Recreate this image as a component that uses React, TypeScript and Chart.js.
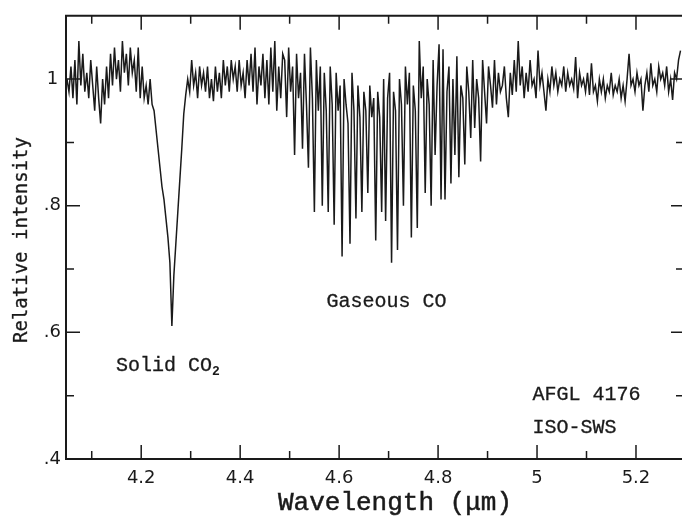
import { useEffect, useRef } from 'react';
import { Chart, registerables } from 'chart.js';

Chart.register(...registerables);

// Wavelength grid of the spectrum (micrometres)
const WAVE_START = 4.05;
const WAVE_STEP = 0.004;

// Relative intensity, one value per grid step
const INTENSITY = [
  1.00, 0.98, 1.02, 0.97, 1.03, 0.96, 1.06, 0.99, 1.04, 0.98,
  1.01, 0.97, 1.03, 0.99, 0.95, 1.02, 0.97, 0.93, 1.00, 0.96,
  1.02, 0.97, 1.04, 0.99, 1.05, 1.00, 1.03, 0.98, 1.06, 1.01,
  1.04, 0.99, 1.05, 1.01, 1.03, 0.98, 1.05, 0.97, 1.02, 0.97,
  0.99, 0.96, 1.00, 0.96, 0.95, 0.92, 0.89, 0.86, 0.83, 0.81,
  0.78, 0.75, 0.71, 0.61, 0.69, 0.74, 0.79, 0.84, 0.89, 0.945,
  0.975, 1.00, 0.98, 1.03, 0.99, 1.01, 0.97, 1.02, 0.99, 1.01,
  0.98, 1.02, 0.97, 1.00, 0.965, 1.02, 0.98, 1.01, 0.97, 1.03,
  0.99, 1.02, 0.98, 1.03, 1.00, 1.02, 0.98, 1.03, 0.99, 1.01,
  0.97, 1.03, 0.99, 1.04, 0.98, 1.05, 0.96, 1.02, 0.99, 1.04,
  0.97, 1.03, 0.96, 1.05, 0.98, 1.06, 0.95, 1.02, 0.97, 1.04,
  1.03, 0.94, 1.05, 0.98, 1.02, 0.88, 1.04, 0.97, 1.01, 0.89,
  1.04, 0.96, 0.86, 1.05, 0.97, 0.79, 1.03, 0.95, 1.02, 0.80,
  1.01, 0.95, 0.79, 1.02, 0.96, 0.77, 1.01, 0.95, 0.99, 0.72,
  1.00, 0.96, 0.93, 0.74, 1.01, 0.95, 0.78, 0.99, 0.94, 0.79,
  0.98, 0.95, 0.82, 0.99, 0.94, 0.97, 0.745, 0.98, 0.94, 0.79,
  1.00, 0.776, 0.97, 1.01, 0.71, 0.98, 0.95, 0.73, 1.00, 0.96,
  0.80, 1.02, 0.96, 1.01, 0.75, 0.99, 0.95, 0.765, 1.06, 0.97,
  1.02, 0.82, 1.00, 0.96, 0.80, 1.03, 0.88, 0.99, 1.055, 0.81,
  1.047, 0.81, 0.98, 1.02, 0.835, 1.00, 0.88, 1.036, 0.845, 0.99,
  0.97, 0.865, 1.02, 0.98, 0.907, 1.03, 0.923, 1.00, 0.97, 0.87,
  1.03, 0.98, 0.93, 1.02, 0.99, 0.955, 1.03, 0.96, 1.01, 0.98,
  0.99, 1.02, 0.97, 0.94, 1.01, 0.975, 1.03, 0.98, 1.06, 0.99,
  1.02, 0.97, 1.01, 0.98, 1.03, 0.99, 1.00, 0.97, 1.045, 0.99,
  1.01, 0.98, 0.95, 1.00, 0.98, 1.02, 0.99, 1.01, 0.98, 1.00,
  0.99, 1.02, 0.98, 1.01, 0.99, 1.00, 0.985, 1.035, 0.97, 1.01,
  0.99, 1.00, 0.98, 1.01, 0.975, 1.025, 0.98, 0.99, 0.965, 1.00,
  0.98, 1.00, 0.97, 0.99, 0.98, 1.01, 0.975, 0.99, 0.98, 1.00,
  0.97, 0.99, 0.965, 1.00, 1.04, 0.99, 1.00, 0.98, 1.01, 0.99,
  1.00, 0.95, 0.99, 1.01, 0.98, 1.025, 0.99, 1.00, 0.98, 1.02,
  1.00, 1.01, 0.99, 1.02, 0.98, 1.00, 0.967, 1.01, 1.00, 1.03,
  1.045,
];

const X_MIN = 4.048;
const X_MAX = 5.293;
const Y_MIN = 0.4;
const Y_MAX = 1.1;

const X_MAJOR_TICKS = [4.2, 4.4, 4.6, 4.8, 5.0, 5.2];
const X_TICK_LABELS = ['4.2', '4.4', '4.6', '4.8', '5', '5.2'];
const X_MINOR_TICKS = [4.1, 4.3, 4.5, 4.7, 4.9, 5.1];
const Y_MAJOR_TICKS = [0.4, 0.6, 0.8, 1.0];
const Y_TICK_LABELS = ['.4', '.6', '.8', '1'];
const Y_MINOR_TICKS = [0.5, 0.7, 0.9];

const X_TITLE = 'Wavelength (\u03bcm)';
const Y_TITLE = 'Relative intensity';

const ANNOTATIONS = [
  { text: 'Gaseous CO', sub: '', x: 4.5745, y: 0.649 },
  { text: 'Solid CO', sub: '2', x: 4.149, y: 0.548 },
  { text: 'AFGL 4176', sub: '', x: 4.991, y: 0.502 },
  { text: 'ISO-SWS', sub: '', x: 4.991, y: 0.45 },
];

const INK = '#1a1a1a';

const framePlugin = {
  id: 'frameAndText',
  afterDraw(chart: any) {
    const { ctx, chartArea, scales } = chart;
    const xs = scales.x;
    const ys = scales.y;
    const { left, right, top, bottom } = chartArea;
    ctx.save();
    ctx.strokeStyle = INK;
    ctx.lineCap = 'butt';
    // frame (left, top, bottom)
    ctx.lineWidth = 2;
    ctx.beginPath();
    ctx.moveTo(left, top);
    ctx.lineTo(right, top);
    ctx.moveTo(left, top - 1);
    ctx.lineTo(left, bottom + 1);
    ctx.moveTo(left, bottom);
    ctx.lineTo(right, bottom);
    ctx.stroke();
    // ticks
    ctx.lineWidth = 1.5;
    ctx.beginPath();
    const xTick = (v: number, len: number) => {
      const px = xs.getPixelForValue(v);
      ctx.moveTo(px, bottom);
      ctx.lineTo(px, bottom - len);
      ctx.moveTo(px, top);
      ctx.lineTo(px, top + len);
    };
    X_MAJOR_TICKS.forEach((v) => xTick(v, 14));
    X_MINOR_TICKS.forEach((v) => xTick(v, 8));
    const yTick = (v: number, len: number, rlen: number) => {
      const py = ys.getPixelForValue(v);
      ctx.moveTo(left, py);
      ctx.lineTo(left + len, py);
      ctx.moveTo(right, py);
      ctx.lineTo(right - rlen, py);
    };
    Y_MAJOR_TICKS.forEach((v) => yTick(v, 14, 11));
    Y_MINOR_TICKS.forEach((v) => yTick(v, 8, 6));
    ctx.stroke();

    // annotations
    ctx.fillStyle = INK;
    ctx.textBaseline = 'middle';
    ctx.textAlign = 'left';
    ctx.lineWidth = 0.3;
    ANNOTATIONS.forEach((a) => {
      ctx.font = '20px "Liberation Mono"';
      const px = xs.getPixelForValue(a.x);
      const py = ys.getPixelForValue(a.y);
      ctx.fillText(a.text, px, py);
      ctx.strokeText(a.text, px, py);
      if (a.sub) {
        const w = ctx.measureText(a.text).width;
        ctx.font = 'bold 13px "Liberation Mono"';
        ctx.fillText(a.sub, px + w, py + 6);
      }
    });

    // axis titles
    ctx.textAlign = 'center';
    ctx.font = '26px "Liberation Mono"';
    ctx.lineWidth = 0.5;
    ctx.fillText(X_TITLE, 395, 503);
    ctx.strokeText(X_TITLE, 395, 503);
    ctx.save();
    ctx.translate(22, 240);
    ctx.rotate(-Math.PI / 2);
    ctx.font = '19px "DejaVu Sans Mono"';
    ctx.lineWidth = 0.3;
    ctx.fillText(Y_TITLE, 0, 0);
    ctx.strokeText(Y_TITLE, 0, 0);
    ctx.restore();
    ctx.restore();
  },
};

export default function App() {
  const canvasRef = useRef<HTMLCanvasElement | null>(null);

  useEffect(() => {
    const canvas = canvasRef.current;
    if (!canvas) return;
    const points = INTENSITY.map((v, i) => ({
      x: Math.round((WAVE_START + i * WAVE_STEP) * 1000) / 1000,
      y: v,
    }));
    const chart = new Chart(canvas, {
      type: 'line',
      data: {
        datasets: [
          {
            data: points,
            borderColor: INK,
            borderWidth: 1.5,
            pointRadius: 0,
            tension: 0,
            fill: false,
          },
        ],
      },
      options: {
        animation: false,
        responsive: false,
        maintainAspectRatio: false,
        layout: { padding: { top: 14, right: 0, left: 0, bottom: 0 } },
        plugins: {
          legend: { display: false },
          tooltip: { enabled: false },
        },
        scales: {
          x: {
            type: 'linear',
            position: 'bottom',
            min: X_MIN,
            max: X_MAX,
            afterBuildTicks: (s: any) => {
              s.ticks = X_MAJOR_TICKS.map((v) => ({ value: v }));
            },
            afterFit: (s: any) => {
              s.height = 63;
            },
            grid: { display: false, drawTicks: false },
            border: { display: false },
            ticks: {
              autoSkip: false,
              maxRotation: 0,
              padding: 9,
              color: INK,
              font: { family: 'DejaVu Sans', size: 18 },
              callback: (_v: any, i: number) => X_TICK_LABELS[i],
            },
          },
          y: {
            type: 'linear',
            position: 'left',
            min: Y_MIN,
            max: Y_MAX,
            afterBuildTicks: (s: any) => {
              s.ticks = Y_MAJOR_TICKS.map((v) => ({ value: v }));
            },
            afterFit: (s: any) => {
              s.width = 66;
            },
            grid: { display: false, drawTicks: false },
            border: { display: false },
            ticks: {
              autoSkip: false,
              padding: 5,
              crossAlign: 'center',
              color: INK,
              font: { family: 'DejaVu Sans', size: 18 },
              callback: (_v: any, i: number) => Y_TICK_LABELS[i],
            },
          },
        },
      },
      plugins: [framePlugin],
    } as any);
    return () => chart.destroy();
  }, []);

  return (
    <div style={{ position: 'fixed', left: 0, top: 0, width: 682, height: 522, background: '#fff' }}>
      <canvas ref={canvasRef} width={682} height={522} style={{ width: 682, height: 522, display: 'block' }} />
    </div>
  );
}
